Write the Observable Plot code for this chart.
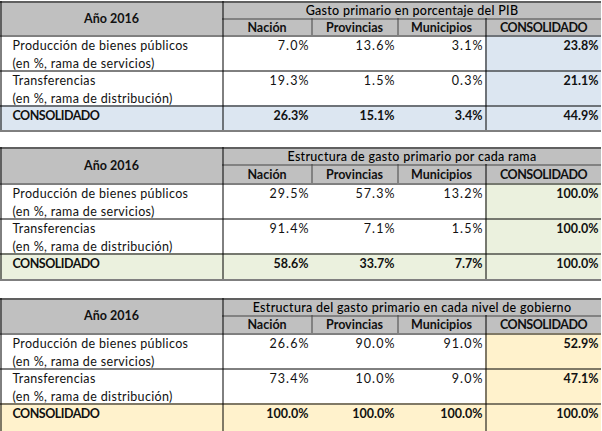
<!DOCTYPE html>
<html>
<head>
<meta charset="utf-8">
<script src="https://cdn.jsdelivr.net/npm/d3@7"></script>
<script src="https://cdn.jsdelivr.net/npm/@observablehq/plot@0.6"></script>
<style>
  html, body { margin: 0; padding: 0; background: #ffffff; }
  #chart svg { display: block; }
</style>
</head>
<body>
<div id="chart"></div>
<script>
// ---------- data ----------
const yearLabel = "Año 2016";
const tableTitles = [
  "Gasto primario en porcentaje del PIB",
  "Estructura de gasto primario por cada rama",
  "Estructura del gasto primario en cada nivel de gobierno"
];
const columns = ["Nación", "Provincias", "Municipios", "CONSOLIDADO"];
const rowLabels = [
  ["Producción de bienes públicos", "(en %, rama de servicios)"],
  ["Transferencias", "(en %, rama de distribución)"],
  ["CONSOLIDADO"]
];
const pibValues   = [[7.0, 13.6, 3.1, 23.8], [19.3, 1.5, 0.3, 21.1], [26.3, 15.1, 3.4, 44.9]];
const ramaValues  = [[29.5, 57.3, 13.2, 100.0], [91.4, 7.1, 1.5, 100.0], [58.6, 33.7, 7.7, 100.0]];
const nivelValues = [[26.6, 90.0, 91.0, 52.9], [73.4, 10.0, 9.0, 47.1], [100.0, 100.0, 100.0, 100.0]];
const tableValues = [pibValues, ramaValues, nivelValues];

// ---------- layout / style ----------
const W = 602, H = 431;
const colEdges = [0, 222, 311, 397, 485, 601];
const tableRowEdges = [
  [1, 18, 35, 70, 105, 130],
  [147, 164, 183, 218, 253, 279],
  [298, 315, 333, 368, 403, 445]
];
const headerFill = "#c0c0c0";
const highlightFills = ["#dce6f1", "#ebf1de", "#fff2cc"];
const FONT = "Lato, 'Open Sans', sans-serif";
const FS = 12.5;

// ---------- build records ----------
const fills = [], hRules = [], vRules = [], texts = [];
tableValues.forEach((vals, t) => {
  const e = tableRowEdges[t];
  const hl = highlightFills[t];
  fills.push({x1: colEdges[0], x2: colEdges[5], y1: e[0], y2: e[2], fill: headerFill});
  fills.push({x1: colEdges[4], x2: colEdges[5], y1: e[2], y2: e[4], fill: hl});
  fills.push({x1: colEdges[0], x2: colEdges[5], y1: e[4], y2: e[5], fill: hl});
  hRules.push({y: e[0] + 0.5, x1: 0, x2: colEdges[5], c: "#000"});
  hRules.push({y: e[1] + 0.5, x1: colEdges[1], x2: colEdges[5], c: "#444"});
  for (const k of [2, 3, 4, 5]) hRules.push({y: e[k] + 0.5, x1: 0, x2: colEdges[5], c: "#000"});
  vRules.push({x: 0.5, y1: e[0], y2: e[5], c: "#000"});
  vRules.push({x: colEdges[1] + 0.5, y1: e[0], y2: e[5], c: "#000"});
  vRules.push({x: colEdges[2] + 0.5, y1: e[1], y2: e[2], c: "#444"});
  vRules.push({x: colEdges[3] + 0.5, y1: e[1], y2: e[2], c: "#444"});
  vRules.push({x: colEdges[4] + 0.5, y1: e[1], y2: e[5], c: "#000"});
  // header texts
  texts.push({x: (colEdges[0] + colEdges[1]) / 2, y: (e[0] + e[2]) / 2, s: yearLabel, a: "middle", w: "bold", kind: "head"});
  texts.push({x: (colEdges[1] + colEdges[5]) / 2, y: (e[0] + e[1]) / 2 + 0.5, s: tableTitles[t], a: "middle", w: "normal", kind: "title"});
  columns.forEach((c, j) => {
    texts.push({x: (colEdges[j + 1] + colEdges[j + 2]) / 2, y: (e[1] + e[2]) / 2 + 0.5, s: c, a: "middle", w: "bold", kind: "head"});
  });
  // body
  rowLabels.forEach((lines, r) => {
    const top = e[2 + r];
    const bold = r === 2;
    lines.forEach((ln, li) => {
      texts.push({x: 12, y: top + 10 + li * 18, s: ln, a: "start", w: bold ? "bold" : "normal", kind: "label"});
    });
    vals[r].forEach((v, j) => {
      texts.push({x: colEdges[j + 2] - 3, y: top + 10, s: v.toFixed(1) + "%", a: "end",
                  w: (bold || j === 3) ? "bold" : "normal", kind: "num"});
    });
  });
});

const textMark = (weight, anchor) => Plot.text(
  texts.filter(d => d.w === weight && d.a === anchor),
  {x: "x", y: "y", text: "s", textAnchor: anchor, lineAnchor: "middle",
   fontFamily: FONT, fontSize: FS, fontWeight: weight, fill: "#111"}
);

const chart = Plot.plot({
  width: W, height: H,
  margin: 0,
  x: {domain: [0, W], range: [0, W], axis: null},
  y: {domain: [0, H], range: [0, H], axis: null},
  style: {background: "#ffffff"},
  marks: [
    Plot.rect(fills, {x1: "x1", x2: "x2", y1: "y1", y2: "y2", fill: d => d.fill}),
    Plot.ruleY(hRules, {y: "y", x1: "x1", x2: "x2", stroke: d => d.c, strokeWidth: 1}),
    Plot.ruleX(vRules, {x: "x", y1: "y1", y2: "y2", stroke: d => d.c, strokeWidth: 1}),
    textMark("normal", "start"), textMark("normal", "end"), textMark("normal", "middle"),
    textMark("bold", "start"), textMark("bold", "end"), textMark("bold", "middle")
  ]
});

// letter spacing tweaks to approximate the original spreadsheet font
const titleSet = new Set(tableTitles);
d3.select(chart).selectAll("text").each(function () {
  const s = this.textContent;
  const bold = (this.closest("[font-weight]") || this).getAttribute("font-weight") === "bold";
  let ls = 0;
  if (titleSet.has(s)) { ls = 0.3; this.setAttribute("fill", "#000"); this.setAttribute("font-weight", 500); }
  else if (/%$/.test(s)) ls = bold ? 0 : 1.1;
  else if (s === s.toUpperCase() && /[A-Z]/.test(s)) ls = -0.5;
  else if (!bold) ls = 0.35;
  if (ls) {
    this.setAttribute("letter-spacing", ls);
    if (/%$/.test(s)) this.setAttribute("dx", ls);
  }
});

document.getElementById("chart").appendChild(chart);
</script>
</body>
</html>
